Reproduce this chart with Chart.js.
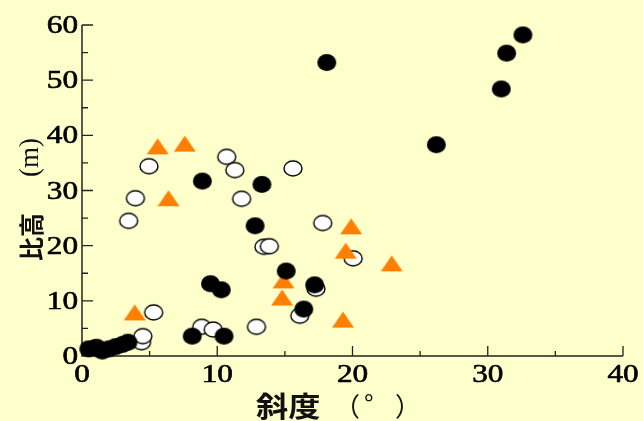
<!DOCTYPE html>
<html>
<head>
<meta charset="utf-8">
<script src="https://cdn.jsdelivr.net/npm/chart.js@4/dist/chart.umd.min.js"></script>
<style>
html,body{margin:0;padding:0;background:#ffffcc;overflow:hidden;}
canvas{display:block;}
</style>
</head>
<body>
<canvas id="c" width="643" height="421"></canvas>
<script>
// ---- data ----
const filledX = [0.5,1.0,1.5,2.0,2.5,3.0,3.4,8.15,10.5,9.5,10.3,8.9,13.3,12.8,15.1,17.2,16.4,18.1,26.2,31.0,31.4,32.6];
const filledY = [1.3,1.5,0.9,1.3,1.7,2.1,2.5,3.6,3.6,13.1,12.0,31.7,31.1,23.6,15.4,12.9,8.5,53.2,38.3,48.4,54.9,58.2];
const openX = [1.1,4.4,4.5,5.3,3.45,3.95,4.95,8.85,9.7,12.9,10.7,11.3,11.8,13.45,13.85,15.6,17.8,20.05,17.3,16.1];
const openY = [1.6,2.5,3.6,7.9,24.5,28.6,34.4,5.3,4.8,5.3,36.1,33.7,28.5,19.8,19.9,34.0,24.1,17.7,12.2,7.3];
const triX = [3.9,5.6,7.6,6.4,14.9,14.8,19.9,19.5,22.9,19.3];
const triY = [7.9,38.0,38.5,28.6,13.7,10.6,23.5,19.1,16.8,6.6];
const xMajorTicks = [0,10,20,30,40];
const xMinorTicks = [5,15,25,35];
const yMajorTicks = [0,10,20,30,40,50,60];
const yMinorTicks = [5,15,25,35,45,55];
const xTitleMain = '斜度';
const xTitleUnit = ['（','°','）'];
const yTitleMain = '比高';
const yTitleUnit = '(m)';

function pts(xs, ys){ return xs.map((x,i)=>({x:x, y:ys[i]})); }

function ellipseImg(w,h,fill,stroke,lw){
  const c=document.createElement('canvas');
  c.width=w+4; c.height=h+4;
  const g=c.getContext('2d');
  g.beginPath();
  g.ellipse(c.width/2,c.height/2,w/2,h/2,0,0,Math.PI*2);
  g.fillStyle=fill; g.fill();
  if(stroke){ g.lineWidth=lw; g.strokeStyle=stroke; g.stroke(); }
  return c;
}
function triImg(w,h,fill){
  const c=document.createElement('canvas');
  c.width=w+2; c.height=h+2;
  const g=c.getContext('2d');
  g.beginPath();
  g.moveTo(1,h+1); g.lineTo(w+1,h+1); g.lineTo(c.width/2,1); g.closePath();
  g.fillStyle=fill; g.fill();
  return c;
}
const imgFilled = ellipseImg(19,17,'#000000',null,0);
const imgOpen = ellipseImg(18,15,'#ffffff','#000000',1.4);
const imgTri = triImg(22,16,'#ff8000');

const BG='#ffffcc';
const AX='#222222';

const axesPlugin = {
  id:'axesPlugin',
  beforeDraw(chart){
    const ctx=chart.ctx;
    ctx.save(); ctx.fillStyle=BG; ctx.fillRect(0,0,chart.width,chart.height); ctx.restore();
  },
  beforeDatasetsDraw(chart){
    const ctx=chart.ctx, xs=chart.scales.x, ys=chart.scales.y;
    const a=chart.chartArea;
    ctx.save();
    ctx.strokeStyle=AX; ctx.lineWidth=1.5;
    ctx.beginPath();
    ctx.moveTo(a.left, ys.getPixelForValue(60)); ctx.lineTo(a.left, a.bottom);
    ctx.lineTo(xs.getPixelForValue(40), a.bottom);
    ctx.stroke();
    ctx.lineWidth=1.3;
    ctx.beginPath();
    xMajorTicks.forEach(v=>{ if(v===0) return; const px=xs.getPixelForValue(v); ctx.moveTo(px,a.bottom); ctx.lineTo(px,a.bottom-10); });
    xMinorTicks.forEach(v=>{ const px=xs.getPixelForValue(v); ctx.moveTo(px,a.bottom); ctx.lineTo(px,a.bottom-5); });
    yMajorTicks.forEach(v=>{ if(v===0) return; const py=ys.getPixelForValue(v); ctx.moveTo(a.left,py); ctx.lineTo(a.left+11,py); });
    yMinorTicks.forEach(v=>{ const py=ys.getPixelForValue(v); ctx.moveTo(a.left,py); ctx.lineTo(a.left+6,py); });
    ctx.stroke();
    ctx.restore();
  },
  afterDraw(chart){
    const ctx=chart.ctx, xs=chart.scales.x, ys=chart.scales.y;
    const a=chart.chartArea;
    ctx.save();
    ctx.fillStyle='#000000';
    ctx.strokeStyle='#000000';
    ctx.lineWidth=0.6;
    ctx.font='25px "Liberation Serif", "Times New Roman", serif';
    const sx=1.25;
    // y tick labels
    ctx.textAlign='right'; ctx.textBaseline='alphabetic';
    yMajorTicks.forEach(v=>{
      const py=ys.getPixelForValue(v);
      ctx.save(); ctx.translate(a.left-4, py+8); ctx.scale(sx,1);
      ctx.fillText(String(v),0,0); ctx.strokeText(String(v),0,0); ctx.restore();
    });
    // x tick labels
    ctx.textAlign='center';
    xMajorTicks.forEach(v=>{
      const px=xs.getPixelForValue(v);
      ctx.save(); ctx.translate(px, a.bottom+26); ctx.scale(sx,1);
      ctx.fillText(String(v),0,0); ctx.strokeText(String(v),0,0); ctx.restore();
    });
    // x title
    ctx.fillStyle='#111111';
    ctx.textAlign='left'; ctx.textBaseline='middle';
    ctx.save(); ctx.translate(256, 406); ctx.scale(1.15,1);
    ctx.font='bold 28px "Noto Sans CJK JP", sans-serif';
    ctx.fillText(xTitleMain,0,0);
    ctx.restore();
    ctx.font='26px "Noto Sans CJK JP", sans-serif';
    ctx.fillText(xTitleUnit[0],334,406);
    ctx.fillText(xTitleUnit[1],364,404);
    ctx.fillText(xTitleUnit[2],395,406);
    // y title (rotated)
    ctx.save(); ctx.translate(31, 261); ctx.rotate(-Math.PI/2);
    ctx.textAlign='left'; ctx.textBaseline='middle';
    ctx.save(); ctx.scale(1,1.05);
    ctx.font='bold 24px "Noto Sans CJK JP", sans-serif';
    ctx.fillText(yTitleMain,0,0);
    ctx.restore();
    ctx.font='27px "Liberation Serif", serif';
    ctx.fillText(yTitleUnit,84,0);
    ctx.restore();
    ctx.restore();
  }
};

new Chart(document.getElementById('c'), {
  type:'scatter',
  data:{
    datasets:[
      {label:'filled', data:pts(filledX,filledY), pointStyle:imgFilled, order:1, clip:false},
      {label:'triangle', data:pts(triX,triY), pointStyle:imgTri, order:2, clip:false},
      {label:'open', data:pts(openX,openY), pointStyle:imgOpen, order:3, clip:false}
    ]
  },
  options:{
    responsive:false,
    devicePixelRatio:1,
    animation:false,
    events:[],
    layout:{padding:{left:82,right:20,top:25,bottom:65}},
    plugins:{legend:{display:false},tooltip:{enabled:false}},
    scales:{
      x:{type:'linear',min:0,max:40,display:false},
      y:{type:'linear',min:0,max:60,display:false}
    }
  },
  plugins:[axesPlugin]
});
</script>
</body>
</html>
